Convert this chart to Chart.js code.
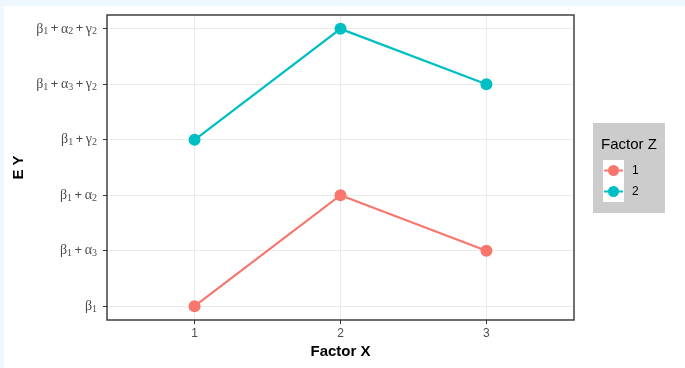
<!DOCTYPE html>
<html lang="en">
<head>
<meta charset="UTF-8">
<title>E Y by Factor X and Factor Z</title>
<script src="https://cdn.jsdelivr.net/npm/chart.js@4.4.1/dist/chart.umd.min.js"></script>
<style>
    html, body {
        margin: 0;
        padding: 0;
        background: #eef6fe;
        width: 685px;
        height: 368px;
        overflow: hidden;
    }
    .panel {
        position: absolute;
        left: 4px;
        top: 6px;
        width: 681px;
        height: 362px;
        background: #ffffff;
    }
    #chart {
        position: absolute;
        left: 0;
        top: 0;
    }
</style>
</head>
<body>
<div class="panel"></div>
<canvas id="chart" width="685" height="368"></canvas>

<script>
// data
const xCategories = [1, 2, 3];
// y levels bottom to top; each term is a greek letter with a subscript
const yLabels = ['β1', 'β1+α3', 'β1+α2', 'β1+γ2', 'β1+α3+γ2', 'β1+α2+γ2'];
const seriesNames = ['1', '2'];
const z1Levels = [0, 2, 1];   // index into yLabels
const z2Levels = [3, 5, 4];
const seriesColors = ['#F8766D', '#00BFC4'];

const ink = '#4d4d4d';
const mainFont = '14px "Liberation Serif", "Times New Roman", serif';
const subFont = '10px "Liberation Serif", "Times New Roman", serif';
const plusFont = '13px "Liberation Sans", Arial, sans-serif';

// split 'β1+α3' into pieces to draw with real subscripts
function labelPieces(label) {
    const pieces = [];
    label.split('+').forEach((term, i) => {
        if (i > 0) pieces.push({ t: '+', f: plusFont, dy: 0, pad: 2.5 });
        pieces.push({ t: term[0], f: mainFont, dy: 0, pad: 0 });
        pieces.push({ t: term.slice(1), f: subFont, dy: 3, pad: 0 });
    });
    return pieces;
}

function drawYLabels(chart) {
    const ctx = chart.ctx;
    const ys = chart.scales.y;
    const right = 97;
    ctx.save();
    ctx.fillStyle = ink;
    ctx.textBaseline = 'middle';
    ctx.textAlign = 'left';
    yLabels.forEach((label, i) => {
        const y = ys.getPixelForValue(i);
        const pieces = labelPieces(label);
        let total = 0;
        pieces.forEach(p => {
            ctx.font = p.f;
            p.w = ctx.measureText(p.t).width + p.pad * 2;
            total += p.w;
        });
        let x = right - total;
        pieces.forEach(p => {
            ctx.font = p.f;
            ctx.fillText(p.t, x + p.pad, y + p.dy);
            x += p.w;
        });
    });
    ctx.restore();
}

// frame, axis titles and the legend box, drawn ggplot-style
const decorations = {
    id: 'decorations',
    afterDraw(chart) {
        const ctx = chart.ctx;
        const a = chart.chartArea;
        drawYLabels(chart);
        ctx.save();
        ctx.strokeStyle = '#333333';
        ctx.lineWidth = 1.4;
        ctx.strokeRect(a.left, a.top, a.right - a.left, a.bottom - a.top);

        ctx.fillStyle = '#000000';
        ctx.font = 'bold 15px "Liberation Sans", Arial, sans-serif';
        ctx.textAlign = 'center';
        ctx.textBaseline = 'middle';
        ctx.fillText('Factor X', (a.left + a.right) / 2, 352);
        ctx.save();
        ctx.translate(19, (a.top + a.bottom) / 2);
        ctx.rotate(-Math.PI / 2);
        ctx.fillText('E Y', 0, 0);
        ctx.restore();

        // legend
        ctx.fillStyle = '#cccccc';
        ctx.fillRect(593, 123, 72, 90);
        ctx.fillStyle = '#000000';
        ctx.textAlign = 'left';
        ctx.font = '15px "Liberation Sans", Arial, sans-serif';
        ctx.fillText('Factor Z', 601, 145);
        ctx.font = '12px "Liberation Sans", Arial, sans-serif';
        seriesNames.forEach((name, i) => {
            const ky = 160 + i * 21;
            ctx.fillStyle = '#ffffff';
            ctx.fillRect(603, ky, 21, 21);
            const cy = ky + 10.5;
            ctx.strokeStyle = seriesColors[i];
            ctx.lineWidth = 2;
            ctx.beginPath();
            ctx.moveTo(604, cy);
            ctx.lineTo(623, cy);
            ctx.stroke();
            ctx.fillStyle = seriesColors[i];
            ctx.beginPath();
            ctx.arc(613.5, cy, 5.5, 0, Math.PI * 2);
            ctx.fill();
            ctx.fillStyle = '#000000';
            ctx.fillText(name, 632, cy);
        });
        ctx.restore();
    }
};

function makeSeries(levels, color, name) {
    return {
        label: name,
        data: xCategories.map((x, i) => ({ x: x, y: levels[i] })),
        borderColor: color,
        backgroundColor: color,
        borderWidth: 2.2,
        pointRadius: 6,
        pointBorderWidth: 0,
        pointHoverRadius: 6,
        tension: 0
    };
}

new Chart(document.getElementById('chart'), {
    type: 'line',
    data: {
        datasets: [
            makeSeries(z1Levels, seriesColors[0], seriesNames[0]),
            makeSeries(z2Levels, seriesColors[1], seriesNames[1])
        ]
    },
    options: {
        responsive: false,
        animation: false,
        layout: { padding: { left: 0, right: 111, top: 15, bottom: 0 } },
        plugins: {
            legend: { display: false },
            tooltip: { enabled: false }
        },
        scales: {
            x: {
                type: 'linear',
                min: 0.4,
                max: 3.6,
                afterBuildTicks: s => { s.ticks = xCategories.map(v => ({ value: v })); },
                afterFit: s => { s.height = 48; },
                grid: { color: '#ebebeb', lineWidth: 1, tickLength: 4, tickColor: '#333333' },
                border: { display: false },
                ticks: {
                    color: ink,
                    padding: 2,
                    font: { family: '"Liberation Sans", Arial, sans-serif', size: 12 }
                }
            },
            y: {
                type: 'linear',
                min: -0.25,
                max: 5.25,
                afterBuildTicks: s => { s.ticks = yLabels.map((_, i) => ({ value: i })); },
                afterFit: s => { s.width = 107; },
                grid: { color: '#ebebeb', lineWidth: 1, tickLength: 4, tickColor: '#333333' },
                border: { display: false },
                ticks: {
                    // labels with subscripts are drawn by the plugin
                    color: 'rgba(0,0,0,0)',
                    callback: v => yLabels[v]
                }
            }
        }
    },
    plugins: [decorations]
});
</script>
</body>
</html>
